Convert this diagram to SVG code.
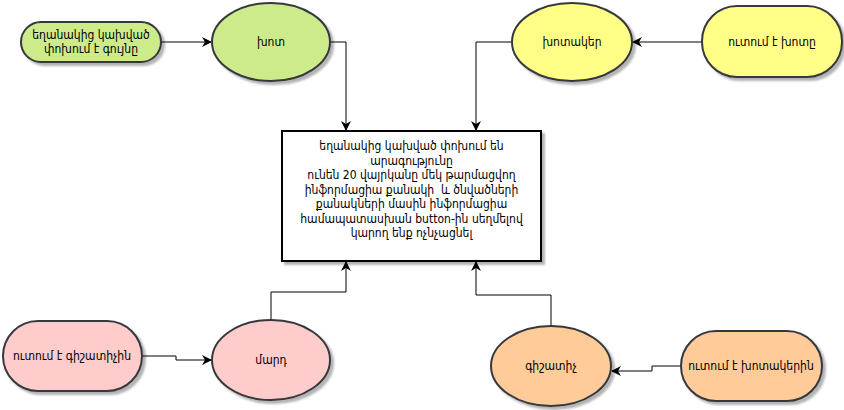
<svg xmlns="http://www.w3.org/2000/svg" width="844" height="410" viewBox="0 0 844 410">
<defs>
<marker id="arr" viewBox="0 0 10 10" refX="9" refY="5" markerWidth="10" markerHeight="10" markerUnits="userSpaceOnUse" orient="auto">
<path d="M0,0 L10,5 L0,10 L3,5 Z" fill="#000"/>
</marker>
<filter id="sh" x="-10%" y="-10%" width="130%" height="130%">
<feGaussianBlur in="SourceAlpha" stdDeviation="1.2"/>
<feOffset dx="3" dy="3" result="b"/>
<feComponentTransfer><feFuncA type="linear" slope="0.3"/></feComponentTransfer>
<feMerge><feMergeNode/><feMergeNode in="SourceGraphic"/></feMerge>
</filter>
</defs>
<style>
text{font-family:"DejaVu Sans Condensed","DejaVu Sans",sans-serif;font-size:12px;fill:#000;text-anchor:middle}
.n{stroke:#36393d;stroke-width:2;filter:url(#sh)}
.g{fill:#cdeb8b}.y{fill:#ffff88}.p{fill:#ffcccc}.o{fill:#ffcc99}
.c{fill:none;stroke:#000;stroke-width:1;marker-end:url(#arr)}
</style>
<rect width="844" height="410" fill="#fff"/>
<g id="connectors">
<path class="c" d="M161,42 H211"/>
<path class="c" d="M331,42 H346 V130"/>
<path class="c" d="M702,42 H633"/>
<path class="c" d="M512,42 H476 V130"/>
<path class="c" d="M142,356 H176 V360 H211"/>
<path class="c" d="M271,320 V292 H346 V262"/>
<path class="c" d="M681,366 H652 V371 H612"/>
<path class="c" d="M551,326 V295 H476 V262"/>
</g>
<g id="n1"><rect class="n g" x="21" y="22" width="140" height="40" rx="20"/><text x="91" y="39">եղանակից կախված</text><text x="91" y="53">փոխում է գույնը</text></g>
<g id="n2"><ellipse class="n g" cx="271" cy="42" rx="59" ry="39"/><text x="271" y="46">խոտ</text></g>
<g id="n3"><ellipse class="n y" cx="572" cy="42" rx="60" ry="39"/><text x="572" y="46">խոտակեր</text></g>
<g id="n4"><rect class="n y" x="702" y="6" width="140" height="71" rx="35"/><text x="772" y="46">ուտում է խոտը</text></g>
<g id="box"><rect x="282" y="131" width="259" height="130" fill="#fff" stroke="#000" stroke-width="2" filter="url(#sh)"/>
<text x="411.5" y="150">եղանակից կախված փոխում են</text>
<text x="411.5" y="164.5">արագությունը</text>
<text x="411.5" y="179">ունեն 20 վայրկանը մեկ թարմացվող</text>
<text x="411.5" y="193.5">ինֆորմացիա քանակի&#160; և ծնվածների</text>
<text x="411.5" y="208">քանակների մասին ինֆորմացիա</text>
<text x="411.5" y="222.5">համապատասխան button-ին սեղմելով</text>
<text x="411.5" y="237">կարող ենք ոչնչացնել</text>
</g>
<g id="n5"><rect class="n p" x="3" y="321" width="139" height="70" rx="35"/><text x="72" y="360">ուտում է գիշատիչին</text></g>
<g id="n6"><ellipse class="n p" cx="271" cy="360" rx="59" ry="40"/><text x="271" y="364">մարդ</text></g>
<g id="n7"><ellipse class="n o" cx="551" cy="366" rx="60" ry="40"/><text x="551" y="370">գիշատիչ</text></g>
<g id="n8"><rect class="n o" x="681" y="331" width="141" height="70" rx="35"/><text x="751" y="370">ուտում է խոտակերին</text></g>
</svg>
